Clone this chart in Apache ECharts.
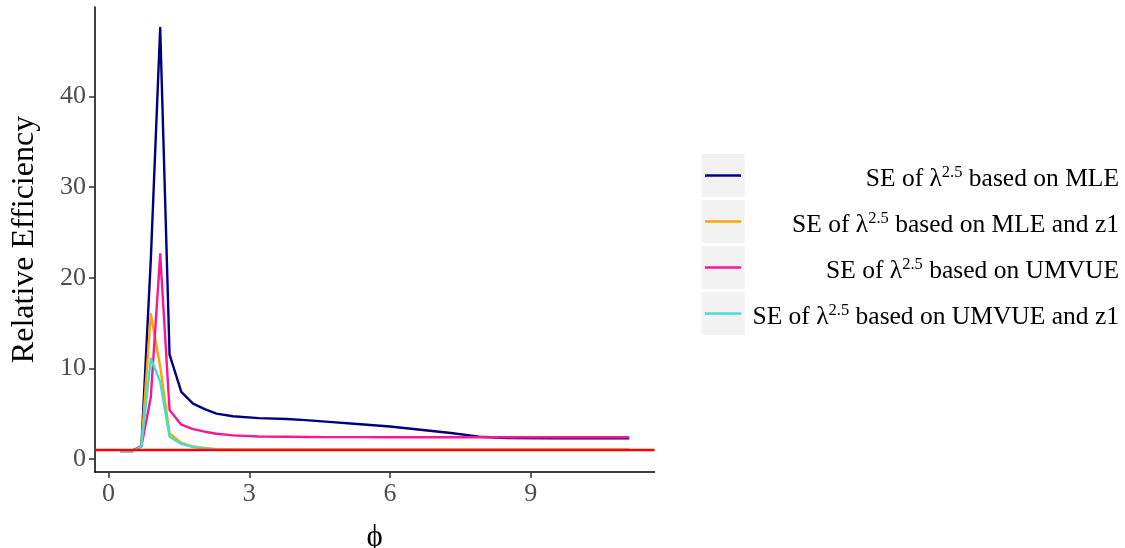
<!DOCTYPE html>
<html>
<head>
<meta charset="utf-8">
<script src="https://cdn.jsdelivr.net/npm/echarts@6/dist/echarts.min.js"></script>
<style>
html,body{margin:0;padding:0;background:#fff;}
#chart{width:1125px;height:548px;}
</style>
</head>
<body>
<div id="chart"></div>
<script>
// ---- data ----
const phi = [0.25, 0.5, 0.7, 0.9, 1.1, 1.3, 1.55, 1.8, 2.05, 2.3, 2.65, 3.2, 3.8, 4.2, 4.7, 5.3, 6.0, 6.65, 7.3, 7.9, 8.5, 9.5, 10.5, 11.1];
const seMLE     = [0.85, 0.85, 1.4, 22.0, 47.6, 11.5, 7.4, 6.1, 5.5, 5.0, 4.7, 4.5, 4.4, 4.28, 4.08, 3.85, 3.58, 3.21, 2.85, 2.45, 2.3, 2.28, 2.27, 2.27];
const seMLEz1   = [0.85, 0.85, 1.4, 16.0, 10.2, 2.8, 1.75, 1.36, 1.2, 1.06, 1.0, 1.0, 1.0, 1.0, 1.0, 1.0, 1.0, 1.0, 1.0, 1.0, 1.0, 1.0, 1.0, 1.0];
const seUMVUE   = [0.85, 0.9, 1.4, 6.8, 22.6, 5.4, 3.77, 3.29, 3.0, 2.77, 2.6, 2.47, 2.45, 2.42, 2.40, 2.40, 2.39, 2.38, 2.38, 2.38, 2.38, 2.38, 2.38, 2.38];
const seUMVUEz1 = [0.85, 0.8, 1.4, 11.1, 8.5, 2.45, 1.65, 1.3, 1.15, 1.04, 1.0, 1.0, 1.0, 1.0, 1.0, 1.0, 1.0, 1.0, 1.0, 1.0, 1.0, 1.0, 1.0, 1.0];
const refLevel = 1;
const xTicks = [0, 3, 6, 9];
const yTicks = [0, 10, 20, 30, 40];
const seriesValues = [seMLE, seMLEz1, seUMVUE, seUMVUEz1];
const seriesSuffix = [' based on MLE', ' based on MLE and z1', ' based on UMVUE', ' based on UMVUE and z1'];
const seriesNames = seriesSuffix.map(s => 'SE of λ^2.5' + s);
const seriesColors = ['#000080', '#FFA500', '#FF1493', '#40E0D0'];

const FONT = "'Liberation Serif', 'Times New Roman', serif";

const chart = echarts.init(document.getElementById('chart'), null, {renderer: 'canvas'});

const series = seriesValues.map((vals, i) => ({
  name: seriesNames[i],
  type: 'line',
  data: phi.map((p, k) => [p, vals[k]]),
  showSymbol: false,
  symbol: 'none',
  lineStyle: {color: seriesColors[i], width: 2.4, join: 'round'},
  itemStyle: {color: seriesColors[i]},
  z: 2 + i * 0.01,
  silent: true
}));
series.push({
  type: 'line',
  data: [],
  z: 5,
  markLine: {
    silent: true,
    symbol: 'none',
    label: {show: false},
    lineStyle: {color: '#FF0000', width: 2.4, type: 'solid'},
    data: [{yAxis: refLevel}]
  }
});

// legend built as graphic
const legTop = 154, legStep = 46, keySize = 43, keyLeft = 701.5, textRight = 1119;
const graphic = [];
seriesSuffix.forEach((suf, i) => {
  const top = legTop + i * legStep;
  graphic.push({
    type: 'rect', left: keyLeft, top: top, silent: true,
    shape: {width: keySize, height: keySize},
    style: {fill: '#F2F2F2'}
  });
  graphic.push({
    type: 'line', silent: true,
    shape: {x1: keyLeft + 3.5, y1: top + keySize / 2, x2: keyLeft + keySize - 3.5, y2: top + keySize / 2},
    style: {stroke: seriesColors[i], lineWidth: 2.4}
  });
  graphic.push({
    type: 'text', silent: true,
    x: textRight, y: top + keySize / 2 + 4,
    style: {
      text: '{a|SE of λ}{s|2.5}{a|' + suf + '}',
      align: 'right', verticalAlign: 'middle',
      rich: {
        a: {fontSize: 25.5, fontFamily: FONT, fill: '#000', lineHeight: 30},
        s: {fontSize: 16.5, fontFamily: FONT, fill: '#000', lineHeight: 18, verticalAlign: 'top'}
      }
    }
  });
});

const option = {
  animation: false,
  backgroundColor: '#fff',
  grid: {left: 95, right: 470.5, top: 7, bottom: 76, containLabel: false, outerBoundsMode: 'none'},
  xAxis: {
    type: 'value', min: -0.29, max: 11.64,
    axisLine: {show: true, onZero: false, lineStyle: {color: '#000', width: 1.5}},
    axisTick: {show: true, customValues: xTicks, length: 6, lineStyle: {color: '#333', width: 1.5}},
    axisLabel: {customValues: xTicks, color: '#4d4d4d', fontSize: 26, fontFamily: FONT, margin: 9},
    splitLine: {show: false},
    name: 'ϕ', nameLocation: 'middle', nameGap: 50,
    nameTextStyle: {fontSize: 31, color: '#000', fontFamily: FONT}
  },
  yAxis: {
    type: 'value', min: -1.45, max: 49.9,
    axisLine: {show: true, onZero: false, lineStyle: {color: '#000', width: 1.5}},
    axisTick: {show: true, customValues: yTicks, length: 6, lineStyle: {color: '#333', width: 1.5}},
    axisLabel: {customValues: yTicks, color: '#4d4d4d', fontSize: 26, fontFamily: FONT, margin: 9},
    splitLine: {show: false},
    name: 'Relative Efficiency', nameLocation: 'middle', nameGap: 54, nameRotate: 90,
    nameTextStyle: {fontSize: 32, color: '#000', fontFamily: FONT}
  },
  series: series,
  graphic: graphic
};
chart.setOption(option);
</script>
</body>
</html>
